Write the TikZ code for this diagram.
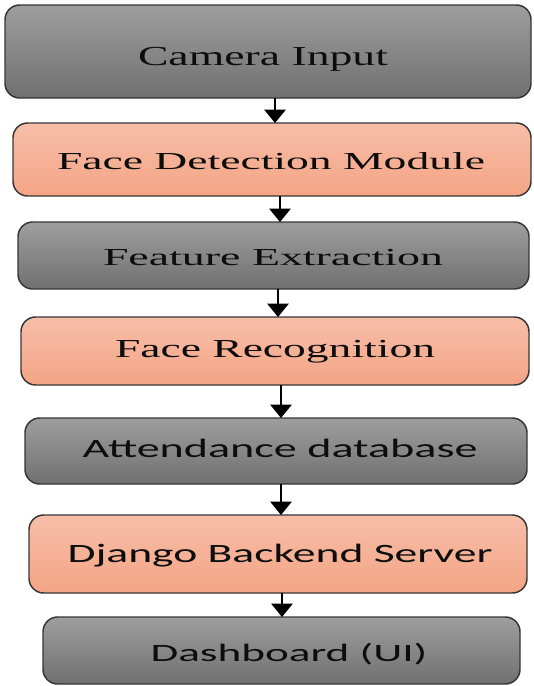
\documentclass[tikz,border=0pt]{standalone}
\usepackage{fontspec}
\setmainfont{Liberation Serif}
\newfontfamily\labelsans{Carlito}
\usetikzlibrary{arrows.meta,fit}

% fit a label to a given width and cap height (both in px units of 0.75pt)
\newlength\fitwd
\newlength\fitcap
\newcommand\fittext[3]{%
  \settowidth\fitwd{#3}%
  \setlength\fitcap{\fontcharht\font`H}%
  \pgfmathsetmacro\fitxs{(#1*0.75)/\fitwd}%
  \pgfmathsetmacro\fitys{(#2*0.75)/\fitcap}%
  \scalebox{\fitxs}[\fitys]{#3}}

\definecolor{greytop}{HTML}{9E9E9E}
\definecolor{greybot}{HTML}{707070}
\definecolor{salmtop}{HTML}{F7BEA8}
\definecolor{salmbot}{HTML}{F4A485}
\definecolor{edge}{HTML}{363636}

\tikzset{
  stagebox/.style={draw=edge, line width=1.1pt, rounded corners=11pt,
    inner sep=0pt, outer sep=0pt},
  greystage/.style={stagebox, top color=greytop, bottom color=greybot},
  salmstage/.style={stagebox, top color=salmtop, bottom color=salmbot},
  lbl/.style={anchor=base, inner sep=0pt, outer sep=0pt, text=black!95,
    font=\fontsize{20}{24}\selectfont},
  sanslbl/.style={lbl, font=\labelsans\fontsize{20}{24}\selectfont},
  flow/.style={-{Triangle[width=16pt,length=10pt]}, line width=1.1pt, black}
}

\begin{document}
\begin{tikzpicture}[x=0.75pt, y=-0.75pt]
\useasboundingbox (0,0) rectangle (534,686);

% stage boxes
\node[greystage, fit={(5,5) (531,98)}]   (cam)  {};
\node[salmstage, fit={(13,123) (531,196)}] (det)  {};
\node[greystage, fit={(18,222) (529,289)}] (feat) {};
\node[salmstage, fit={(21,317) (529,385)}] (rec)  {};
\node[greystage, fit={(25,418) (527,484)}] (db)   {};
\node[salmstage, fit={(29,515) (527,593)}] (srv)  {};
\node[greystage, fit={(43,617) (520,684)}] (ui)   {};

% labels
\node[lbl] (tcam)  at (263,65)  {\fittext{250}{18}{Camera Input}};
\node[lbl] (tdet)  at (271,169) {\fittext{428}{16}{Face Detection Module}};
\node[lbl] (tfeat) at (273,265) {\fittext{340}{16}{Feature Extraction}};
\node[lbl] (trec)  at (275,357) {\fittext{320}{17}{Face Recognition}};
\node[sanslbl] (tdb)  at (280,457) {\fittext{395}{17}{Attendance database}};
\node[sanslbl] (tsrv) at (280,562) {\fittext{425}{17}{Django Backend Server}};
\node[sanslbl] (tui)  at (289,661) {\fittext{277}{16}{Dashboard (UI)}};

% connector columns
\coordinate (c1) at (275,0);
\coordinate (c2) at (280,0);
\coordinate (c3) at (278,0);
\coordinate (c4) at (281,0);
\coordinate (c5) at (281,0);
\coordinate (c6) at (282,0);

\draw[flow] (cam.south -| c1)  -- (det.north -| c1);
\draw[flow] (det.south -| c2)  -- (feat.north -| c2);
\draw[flow] (feat.south -| c3) -- (rec.north -| c3);
\draw[flow] (rec.south -| c4)  -- (db.north -| c4);
\draw[flow] (db.south -| c5)   -- (srv.north -| c5);
\draw[flow] (srv.south -| c6)  -- (ui.north -| c6);
\end{tikzpicture}
\end{document}
